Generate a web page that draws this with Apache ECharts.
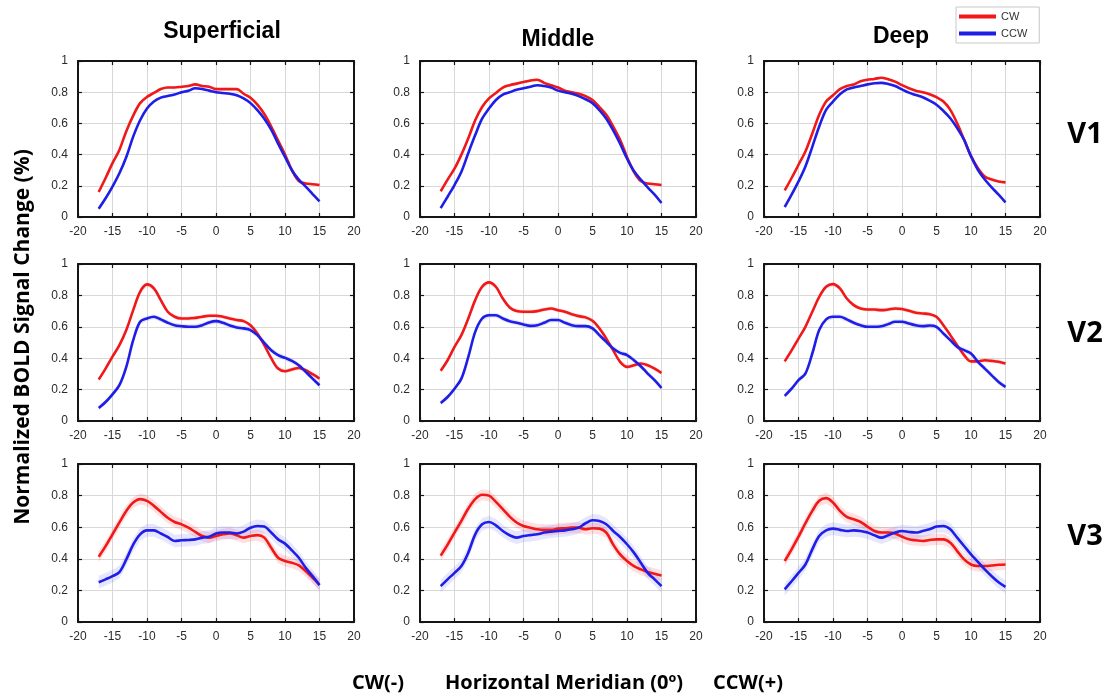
<!DOCTYPE html>
<html>
<head>
<meta charset="utf-8">
<script src="https://cdn.jsdelivr.net/npm/echarts@6/dist/echarts.min.js"></script>
<style>
html,body{margin:0;padding:0;background:#fff;}
#chart{width:1114px;height:700px;}
</style>
</head>
<body>
<div id="chart"></div>
<script>
// ---- data ----
const xs = [-17,-16,-15,-14,-13,-12,-11,-10,-9,-8,-7,-6,-5,-4,-3,-2,-1,0,1,2,3,4,5,6,7,8,9,10,11,12,13,14,15];
const xTicks = [-20,-15,-10,-5,0,5,10,15,20];
const yTicks = [0,0.2,0.4,0.6,0.8,1];
const layers = ['Superficial','Middle','Deep'];
const areas = ['V1','V2','V3'];
const seriesNames = ['CW','CCW'];

const v1SupCW  = [0.16,0.25,0.345,0.43,0.55,0.65,0.73,0.77,0.795,0.82,0.83,0.83,0.835,0.84,0.85,0.84,0.835,0.82,0.82,0.82,0.82,0.79,0.765,0.72,0.66,0.58,0.49,0.40,0.30,0.23,0.215,0.21,0.205];
const v1SupCCW = [0.053,0.12,0.195,0.28,0.385,0.515,0.62,0.695,0.74,0.765,0.775,0.785,0.80,0.81,0.825,0.82,0.81,0.80,0.795,0.79,0.78,0.76,0.73,0.685,0.63,0.56,0.47,0.385,0.30,0.24,0.195,0.147,0.10];
const v1MidCW  = [0.165,0.24,0.31,0.40,0.505,0.62,0.705,0.76,0.795,0.83,0.845,0.855,0.865,0.875,0.88,0.86,0.845,0.83,0.81,0.80,0.79,0.775,0.75,0.705,0.655,0.58,0.495,0.385,0.29,0.23,0.215,0.21,0.205];
const v1MidCCW = [0.057,0.13,0.205,0.29,0.41,0.525,0.63,0.695,0.75,0.785,0.80,0.815,0.825,0.835,0.845,0.84,0.83,0.81,0.80,0.79,0.775,0.755,0.73,0.685,0.63,0.555,0.47,0.375,0.295,0.24,0.19,0.143,0.09];
const v1DeepCW  = [0.17,0.25,0.335,0.42,0.535,0.655,0.74,0.78,0.82,0.84,0.85,0.87,0.88,0.885,0.893,0.883,0.868,0.845,0.825,0.81,0.80,0.787,0.768,0.74,0.687,0.60,0.495,0.39,0.313,0.26,0.24,0.228,0.222];
const v1DeepCCW = [0.064,0.143,0.228,0.324,0.45,0.58,0.687,0.74,0.787,0.818,0.83,0.84,0.85,0.857,0.86,0.853,0.84,0.818,0.797,0.782,0.768,0.746,0.72,0.68,0.633,0.57,0.495,0.39,0.303,0.24,0.19,0.143,0.094];

const v2SupCW  = [0.264,0.334,0.41,0.483,0.58,0.706,0.823,0.87,0.845,0.77,0.696,0.664,0.653,0.653,0.657,0.664,0.67,0.67,0.664,0.653,0.643,0.636,0.61,0.557,0.483,0.40,0.334,0.317,0.328,0.338,0.323,0.298,0.27];
const v2SupCCW = [0.083,0.121,0.17,0.228,0.345,0.515,0.632,0.653,0.664,0.647,0.626,0.61,0.604,0.60,0.60,0.61,0.628,0.636,0.626,0.608,0.596,0.59,0.579,0.547,0.498,0.451,0.42,0.402,0.383,0.355,0.313,0.27,0.228];
const v2MidCW  = [0.32,0.387,0.472,0.547,0.653,0.77,0.855,0.883,0.855,0.78,0.723,0.70,0.696,0.696,0.70,0.71,0.717,0.706,0.696,0.68,0.668,0.66,0.638,0.59,0.525,0.45,0.377,0.345,0.355,0.366,0.355,0.334,0.306];
const v2MidCCW = [0.115,0.153,0.206,0.27,0.408,0.568,0.653,0.674,0.674,0.653,0.636,0.626,0.615,0.606,0.61,0.626,0.643,0.643,0.626,0.61,0.604,0.604,0.59,0.547,0.504,0.462,0.434,0.42,0.387,0.349,0.302,0.26,0.21];
const v2DeepCW  = [0.38,0.45,0.525,0.60,0.696,0.79,0.855,0.872,0.845,0.78,0.738,0.717,0.71,0.71,0.706,0.71,0.717,0.713,0.702,0.69,0.685,0.68,0.664,0.61,0.547,0.483,0.42,0.38,0.38,0.387,0.383,0.377,0.366];
const v2DeepCCW = [0.16,0.206,0.26,0.302,0.43,0.579,0.647,0.664,0.664,0.647,0.626,0.61,0.60,0.60,0.604,0.617,0.632,0.632,0.621,0.61,0.604,0.608,0.60,0.557,0.515,0.472,0.451,0.43,0.377,0.334,0.291,0.249,0.217];

const v3SupCW  = [0.413,0.48,0.555,0.63,0.703,0.756,0.778,0.767,0.735,0.697,0.66,0.633,0.618,0.597,0.57,0.544,0.534,0.544,0.555,0.561,0.549,0.534,0.544,0.55,0.534,0.47,0.407,0.386,0.375,0.358,0.322,0.28,0.237];
const v3SupCCW = [0.252,0.27,0.29,0.316,0.396,0.49,0.555,0.58,0.58,0.56,0.538,0.513,0.517,0.519,0.523,0.534,0.54,0.56,0.566,0.566,0.56,0.572,0.597,0.608,0.604,0.566,0.523,0.496,0.453,0.407,0.343,0.29,0.233];
const v3MidCW  = [0.42,0.49,0.566,0.64,0.718,0.778,0.805,0.80,0.76,0.714,0.667,0.63,0.608,0.597,0.587,0.583,0.583,0.591,0.593,0.597,0.597,0.587,0.593,0.591,0.566,0.49,0.428,0.386,0.354,0.333,0.316,0.305,0.294];
const v3MidCCW = [0.227,0.27,0.311,0.354,0.439,0.555,0.619,0.633,0.612,0.576,0.549,0.534,0.544,0.55,0.555,0.566,0.572,0.576,0.58,0.587,0.597,0.625,0.644,0.64,0.619,0.576,0.538,0.492,0.439,0.375,0.311,0.27,0.227];
const v3DeepCW  = [0.386,0.46,0.54,0.625,0.703,0.767,0.784,0.756,0.703,0.665,0.65,0.633,0.604,0.576,0.566,0.566,0.56,0.54,0.523,0.517,0.513,0.519,0.523,0.523,0.502,0.449,0.396,0.364,0.354,0.354,0.358,0.362,0.364];
const v3DeepCCW = [0.206,0.258,0.311,0.364,0.46,0.544,0.58,0.591,0.583,0.576,0.58,0.576,0.566,0.549,0.534,0.549,0.566,0.576,0.57,0.566,0.576,0.587,0.604,0.608,0.587,0.534,0.481,0.428,0.381,0.333,0.29,0.252,0.222];

// standard error half-widths per visual area (V1, V2, V3)
const semCW  = [0.008, 0.013, 0.035];
const semCCW = [0.008, 0.016, 0.04];

// ---- assembly ----
const panels = [
  [[v1SupCW, v1SupCCW], [v1MidCW, v1MidCCW], [v1DeepCW, v1DeepCCW]],
  [[v2SupCW, v2SupCCW], [v2MidCW, v2MidCCW], [v2DeepCW, v2DeepCCW]],
  [[v3SupCW, v3SupCCW], [v3MidCW, v3MidCCW], [v3DeepCW, v3DeepCCW]]
];
const colLeft = [78, 420, 764];
const colWidth = 276;
const rowTop = [61, 264, 464];
const rowHeight = [156, 157, 158];
const lineColors = ['#f01818', '#1e1ee6'];
const bandColors = ['rgba(255,40,40,0.15)', 'rgba(60,60,255,0.13)'];

const grids = [], xAxes = [], yAxes = [], series = [];
const tickFont = {fontFamily:'Liberation Sans', fontSize:12, color:'#2b2b2b'};
const frameLine = {show:true, onZero:false, lineStyle:{color:'#151515', width:2}};
const tickStyle = {show:true, inside:true, length:4, lineStyle:{color:'#151515', width:1.2}};
const gridLine = {show:true, lineStyle:{color:'#d8d8d8', width:1}};

function bandSeries(g, vals, sem, color) {
  const pts = xs.map((x, i) => [x, vals[i] - sem, vals[i] + sem]);
  return {
    type:'custom', xAxisIndex: 2*g, yAxisIndex: 2*g, data: pts, silent: true, z: 1,
    encode: {x: 0, y: [1, 2]},
    renderItem: function (params, api) {
      if (params.dataIndex !== 0) return null;
      const upper = pts.map(p => api.coord([p[0], p[2]]));
      const lower = pts.map(p => api.coord([p[0], p[1]])).reverse();
      return {type:'polygon', shape:{points: upper.concat(lower)}, style:{fill: color}};
    }
  };
}

for (let r = 0; r < 3; r++) {
  for (let c = 0; c < 3; c++) {
    const g = grids.length;
    grids.push({left: colLeft[c], top: rowTop[r], width: colWidth, height: rowHeight[r], containLabel:false});
    const xbase = {type:'value', min: xTicks[0], max: xTicks[xTicks.length-1], interval: 5, gridIndex: g};
    const ybase = {type:'value', min: yTicks[0], max: yTicks[yTicks.length-1], interval: 0.2, gridIndex: g};
    xAxes.push(Object.assign({}, xbase, {position:'bottom', axisLine: frameLine, axisTick: tickStyle,
      axisLabel: Object.assign({margin:9}, tickFont), splitLine: gridLine}));
    xAxes.push(Object.assign({}, xbase, {position:'top', axisLine: frameLine, axisTick: tickStyle,
      axisLabel:{show:false}, splitLine:{show:false}}));
    yAxes.push(Object.assign({}, ybase, {position:'left', axisLine: frameLine, axisTick: tickStyle,
      axisLabel: Object.assign({margin:10}, tickFont), splitLine: gridLine}));
    yAxes.push(Object.assign({}, ybase, {position:'right', axisLine: frameLine, axisTick: tickStyle,
      axisLabel:{show:false}, splitLine:{show:false}}));
    const sems = [semCW[r], semCCW[r]];
    for (let s = 0; s < 2; s++) {
      series.push(bandSeries(g, panels[r][c][s], sems[s], bandColors[s]));
    }
    for (let s = 0; s < 2; s++) {
      const vals = panels[r][c][s];
      series.push({type:'line', name: seriesNames[s], xAxisIndex: 2*g, yAxisIndex: 2*g,
        data: xs.map((x,i) => [x, vals[i]]), smooth: 0.35, symbol:'none',
        lineStyle:{color: lineColors[s], width: 2.6}, itemStyle:{color: lineColors[s]}, z: 3 + s});
    }
  }
}

const graphics = [];
const titleX = [222, 558, 901];
const titleY = [32, 40, 37];
layers.forEach((t, i) => graphics.push({type:'text', style:{
  text: t, x: titleX[i], y: titleY[i], textAlign:'center', textVerticalAlign:'middle',
  font: 'bold 23px "Liberation Sans"', fill:'#000'}}));
const rowLabelY = [135, 334, 537];
areas.forEach((t, i) => graphics.push({type:'text', style:{
  text: t, x: 1085, y: rowLabelY[i], textAlign:'center', textVerticalAlign:'middle',
  font: 'bold 29px "Open Sans"', fill:'#000'}}));
graphics.push({type:'text', rotation: Math.PI/2, x: 23, y: 337, style:{
  text: 'Normalized BOLD Signal Change (%)', x: 0, y: 0, textAlign:'center', textVerticalAlign:'middle',
  font: 'bold 21px "Open Sans"', fill:'#000'}});
const bottomTexts = [['CW(-)', 378], ['Horizontal Meridian (0º)', 564], ['CCW(+)', 748]];
bottomTexts.forEach(([t, x]) => graphics.push({type:'text', style:{
  text: t, x: x, y: 683, textAlign:'center', textVerticalAlign:'middle',
  font: 'bold 20px "Open Sans"', fill:'#000'}}));

const chart = echarts.init(document.getElementById('chart'), null, {renderer:'canvas'});
chart.setOption({
  animation: false,
  backgroundColor: '#fff',
  grid: grids,
  xAxis: xAxes,
  yAxis: yAxes,
  series: series,
  legend: {
    data: seriesNames, orient:'vertical', left: 956, top: 7,
    icon: 'rect', itemWidth: 37, itemHeight: 4, itemGap: 6,
    padding: [4, 12, 4, 3], borderColor:'#c8c8c8', borderWidth: 1, backgroundColor:'#fff',
    textStyle: {fontFamily:'Liberation Sans', fontSize: 11, color:'#333'}
  },
  graphic: graphics
});
</script>
</body>
</html>
